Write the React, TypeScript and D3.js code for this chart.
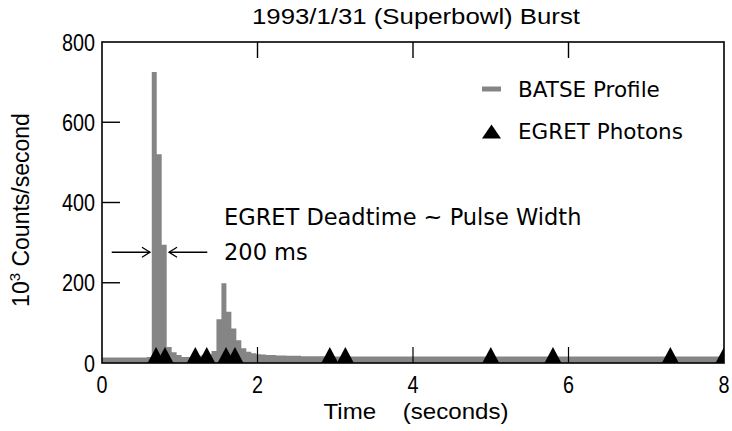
import React, { useEffect, useRef } from "react";
import * as d3 from "d3";

// BATSE profile: 64 ms bins starting at t = 0 (10^3 counts/second)
const BIN_WIDTH = 0.064;
const batseHead = [14, 14, 14, 14, 14, 14, 14, 14, 14, 15, // 0 - 0.64 s
  725, 520, 295, 40, 27, 20, 15, 15, 16, 18,
  20, 22, 30, 109, 199, 128, 86, 57, 37, 28,
  24, 22, 21, 20, 20, 19, 19, 18, 18, 18];
const batseTail = [17, 17, 17, 17, 17, 16, 16, 16, 16, 16,
  16, 16, 16, 16, 16, 16, 16, 16, 16, 16,
  16, 16, 16, 16, 16, 16, 16, 16, 16, 16,
  16, 16, 16, 16, 16, 16, 16, 16, 16, 16,
  16, 16, 16, 16, 16, 16, 16, 16, 16, 16,
  16, 16, 16, 16, 16, 16, 16, 16, 16, 16,
  16, 16, 16, 16, 16, 16, 16, 16, 16, 16,
  16, 16, 16, 16, 16, 16, 16, 16, 16, 16,
  16, 16, 16, 16, 16];
const batseValues = [...batseHead, ...batseTail];

// EGRET photon arrival times (seconds)
const egretTimes = [0.695, 0.81, 1.2, 1.347, 1.595, 1.71, 2.93, 3.13, 5.0, 5.8, 7.31, 8.0];

const xTicks = [0, 2, 4, 6, 8];
const yTicks = [0, 200, 400, 600, 800];

const W = 732, H = 431;
const M = { left: 102, right: 724, top: 42, bottom: 363 };
const GRAY = "#858585";
const NARROW = "'Liberation Sans', Arial, sans-serif";
const WIDE = "'DejaVu Sans', Lato, sans-serif";

export default function App() {
  const ref = useRef<SVGSVGElement>(null);

  useEffect(() => {
    const svg = d3.select(ref.current);
    svg.selectAll("*").remove();

    const x = d3.scaleLinear().domain([0, 8]).range([M.left, M.right]);
    const y = d3.scaleLinear().domain([0, 800]).range([M.bottom, M.top]);

    const defs = svg.append("defs");
    defs.append("clipPath").attr("id", "plotclip")
      .append("rect").attr("x", M.left).attr("y", M.top)
      .attr("width", M.right - M.left).attr("height", M.bottom - M.top);

    // histogram
    const pts = batseValues.map((v, i) => ({ t: i * BIN_WIDTH, v }));
    pts.push({ t: batseValues.length * BIN_WIDTH, v: batseValues[batseValues.length - 1] });
    const area = d3.area<{ t: number; v: number }>()
      .x(d => x(d.t)).y0(y(0)).y1(d => y(d.v)).curve(d3.curveStepAfter);
    svg.append("path").attr("d", area(pts) as string).attr("fill", GRAY)
      .attr("clip-path", "url(#plotclip)");

    // EGRET photons
    const tri = (cx: number, by: number, w: number, h: number) =>
      `M${cx - w / 2},${by}L${cx},${by - h}L${cx + w / 2},${by}Z`;
    svg.append("g").attr("clip-path", "url(#plotclip)")
      .selectAll("path").data(egretTimes).join("path")
      .attr("d", t => tri(x(t), y(0), 17, 16)).attr("fill", "#000");

    // frame
    svg.append("rect").attr("x", M.left).attr("y", M.top)
      .attr("width", M.right - M.left).attr("height", M.bottom - M.top)
      .attr("fill", "none").attr("stroke", "#000").attr("stroke-width", 1.6);

    // ticks (inward)
    const inner = xTicks.filter(t => t > 0 && t < 8);
    svg.append("g").selectAll("line").data(inner).join("line")
      .attr("x1", d => x(d)).attr("x2", d => x(d))
      .attr("y1", M.top).attr("y2", M.top + 16)
      .attr("stroke", "#000").attr("stroke-width", 1.4);
    svg.append("g").selectAll("line").data(inner).join("line")
      .attr("x1", d => x(d)).attr("x2", d => x(d))
      .attr("y1", M.bottom).attr("y2", M.bottom - 16)
      .attr("stroke", "#000").attr("stroke-width", 1.2);
    const yInner = yTicks.filter(t => t > 0 && t < 800);
    svg.append("g").selectAll("line").data(yInner).join("line")
      .attr("x1", M.left).attr("x2", M.left + 18)
      .attr("y1", d => y(d)).attr("y2", d => y(d))
      .attr("stroke", "#000").attr("stroke-width", 1.4);

    // tick labels (condensed look)
    svg.append("g").selectAll("text").data(xTicks).join("text")
      .attr("x", d => x(d)).attr("y", 393).attr("text-anchor", "middle")
      .attr("font-family", NARROW).attr("font-size", 24)
      .attr("textLength", d => String(d).length * 11).attr("lengthAdjust", "spacingAndGlyphs")
      .text(d => d);
    svg.append("g").selectAll("text").data(yTicks).join("text")
      .attr("x", 95).attr("y", d => y(d) + 8.5).attr("text-anchor", "end")
      .attr("font-family", NARROW).attr("font-size", 24)
      .attr("textLength", d => String(d).length * 11).attr("lengthAdjust", "spacingAndGlyphs")
      .text(d => d);

    // title
    svg.append("text").attr("x", 416).attr("y", 24).attr("text-anchor", "middle")
      .attr("font-family", NARROW).attr("font-size", 22)
      .attr("textLength", 328).attr("lengthAdjust", "spacingAndGlyphs")
      .text("1993/1/31 (Superbowl) Burst");

    // x title
    svg.append("text").attr("x", 416).attr("y", 419).attr("text-anchor", "middle")
      .attr("font-family", NARROW).attr("font-size", 22)
      .attr("textLength", 185).attr("lengthAdjust", "spacingAndGlyphs")
      .style("white-space", "pre")
      .text("Time    (seconds)");

    // y title
    const yt = svg.append("text").attr("transform", "translate(29,210) rotate(-90)")
      .attr("text-anchor", "middle").attr("font-family", "'Liberation Sans', Arial, sans-serif")
      .attr("font-size", 23);
    yt.append("tspan").text("10");
    yt.append("tspan").attr("dy", -9).attr("font-size", 15).text("3");
    yt.append("tspan").attr("dy", 9).text(" Counts/second");

    // legend
    svg.append("line").attr("x1", 482).attr("x2", 501).attr("y1", 89).attr("y2", 89)
      .attr("stroke", GRAY).attr("stroke-width", 5);
    svg.append("text").attr("x", 518).attr("y", 97).attr("font-family", WIDE)
      .attr("font-size", 21.5).text("BATSE Profile");
    svg.append("path").attr("d", tri(491.5, 138.5, 19, 14)).attr("fill", "#000");
    svg.append("text").attr("x", 518).attr("y", 139).attr("font-family", WIDE)
      .attr("font-size", 21.5).text("EGRET Photons");

    // annotation
    svg.append("text").attr("x", 224).attr("y", 225).attr("font-family", WIDE)
      .attr("font-size", 22.5).text("EGRET Deadtime ~ Pulse Width");
    svg.append("text").attr("x", 224).attr("y", 260).attr("font-family", WIDE)
      .attr("font-size", 22.5).text("200 ms");

    const ay = y(276);
    const drawArrow = (from: number, to: number) => {
      const x0 = x(from), x1 = x(to);
      const dir = Math.sign(x1 - x0);
      svg.append("line").attr("x1", x0).attr("x2", x1).attr("y1", ay).attr("y2", ay)
        .attr("stroke", "#000").attr("stroke-width", 1.3);
      svg.append("path")
        .attr("d", `M${x1 - dir * 8},${ay - 5}L${x1},${ay}L${x1 - dir * 8},${ay + 5}`)
        .attr("fill", "none").attr("stroke", "#000").attr("stroke-width", 1.3);
    };
    drawArrow(0.125, 0.617);
    drawArrow(1.354, 0.862);
  }, []);

  return (
    <svg ref={ref} width={W} height={H}
      style={{ position: "absolute", left: 0, top: 0, background: "#fff" }} />
  );
}
